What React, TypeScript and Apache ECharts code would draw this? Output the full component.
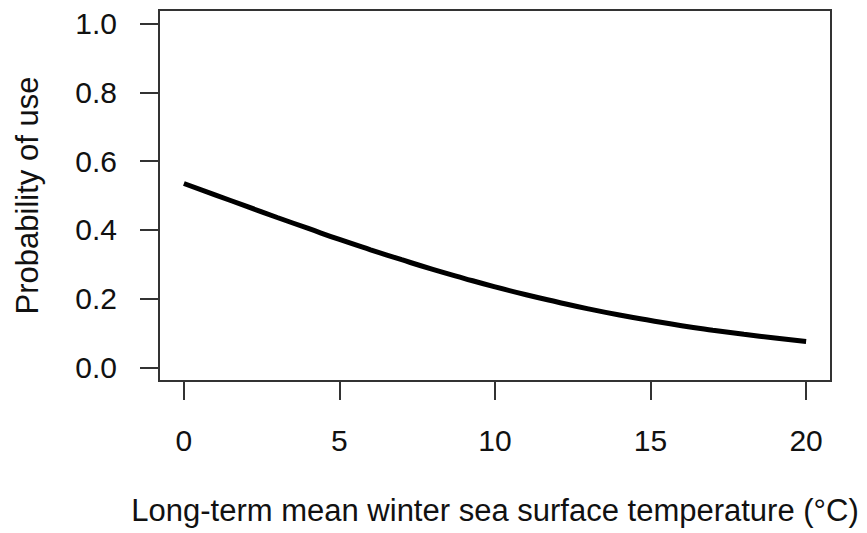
import React, { useEffect, useRef } from "react";
import * as echarts from "echarts";

const temperatures = [0, 1, 2, 3, 4, 5, 6, 7, 8, 9, 10, 11, 12, 13, 14, 15, 16, 17, 18, 19, 20];
const probability = [
  0.535, 0.502, 0.469, 0.436, 0.404, 0.372, 0.342, 0.313, 0.285, 0.259, 0.234,
  0.211, 0.19, 0.17, 0.152, 0.136, 0.121, 0.108, 0.096, 0.085, 0.075,
];
const xTicks = [0, 5, 10, 15, 20];
const yTicks = [0, 0.2, 0.4, 0.6, 0.8, 1.0];
const xTitle = "Long-term mean winter sea surface temperature (°C)";
const yTitle = "Probability of use";

export default function App() {
  const ref = useRef<HTMLDivElement>(null);
  useEffect(() => {
    document.body.style.margin = "0";
    if (!ref.current) return;
    const chart = echarts.init(ref.current, null, { renderer: "svg" });
    const font = "'Liberation Sans', Arial, sans-serif";
    const axisColor = "#333333";
    chart.setOption({
      animation: false,
      backgroundColor: "#ffffff",
      grid: {
        left: 159,
        top: 10,
        width: 672,
        height: 371,
        show: true,
        borderColor: axisColor,
        borderWidth: 2,
        backgroundColor: "transparent",
        containLabel: false,
        outerBoundsMode: "none",
      },
      xAxis: {
        type: "value",
        min: -0.8,
        max: 20.8,
        splitLine: { show: false },
        axisLine: { show: true, onZero: false, lineStyle: { color: axisColor, width: 2 } },
        axisTick: {
          show: true,
          inside: false,
          customValues: xTicks,
          length: 19,
          lineStyle: { color: axisColor, width: 2 },
        },
        axisLabel: {
          customValues: xTicks,
          margin: 44,
          fontSize: 30,
          fontFamily: font,
          color: "#111",
        },
        name: xTitle,
        nameLocation: "middle",
        nameGap: 114,
        nameTextStyle: { fontSize: 31, fontFamily: font, color: "#111" },
      },
      yAxis: {
        type: "value",
        min: -0.04,
        max: 1.04,
        splitLine: { show: false },
        axisLine: { show: true, onZero: false, lineStyle: { color: axisColor, width: 2 } },
        axisTick: {
          show: true,
          inside: false,
          customValues: yTicks,
          length: 19,
          lineStyle: { color: axisColor, width: 2 },
        },
        axisLabel: {
          customValues: yTicks,
          margin: 42,
          fontSize: 30,
          fontFamily: font,
          color: "#111",
          formatter: (v: number) => v.toFixed(1),
        },
        name: yTitle,
        nameLocation: "middle",
        nameGap: 116,
        nameTextStyle: { fontSize: 31, fontFamily: font, color: "#111" },
      },
      series: [
        {
          type: "line",
          data: temperatures.map((t, i) => [t, probability[i]]),
          showSymbol: false,
          smooth: true,
          lineStyle: { color: "#000", width: 5 },
        },
      ],
    });
    return () => chart.dispose();
  }, []);
  return <div ref={ref} style={{ width: 867, height: 533 }} />;
}
